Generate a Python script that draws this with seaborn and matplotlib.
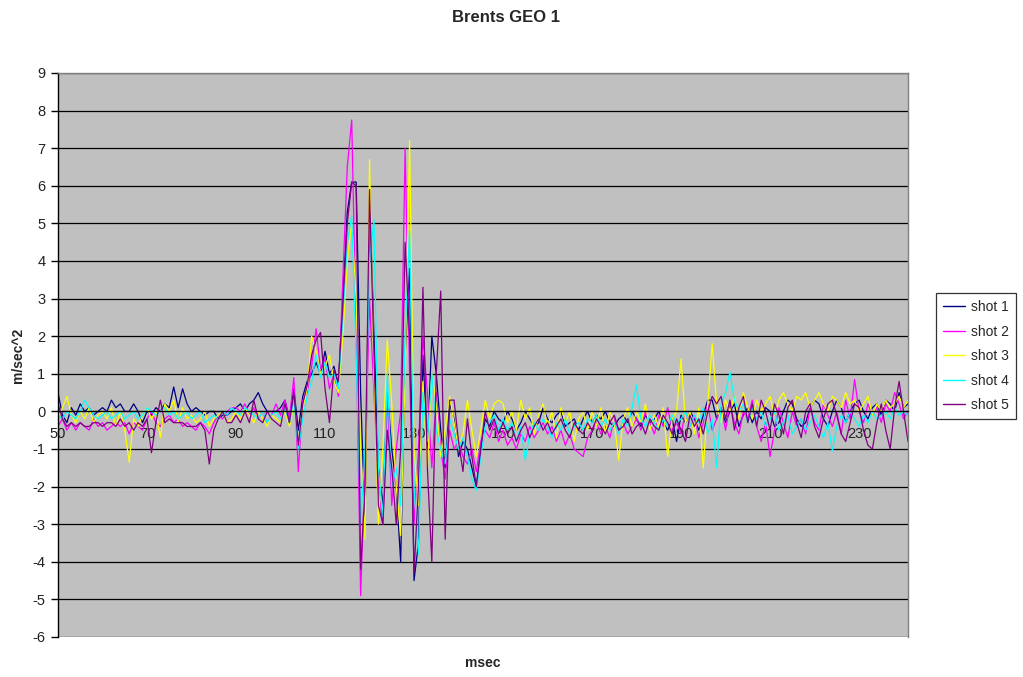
import matplotlib
matplotlib.use("Agg")
import matplotlib.pyplot as plt
import pandas as pd
import seaborn as sns

# time axis in msec, one sample per msec
msec = list(range(50, 242))

shot1 = [
    0.5, -0.1, -0.3, 0.1, -0.1, 0.2, 0.0, 0.1, -0.1, 0.0,
    0.1, 0.0, 0.3, 0.1, 0.2, 0.0, 0.0, 0.2, 0.0, -0.3,
    0.0, -0.1, 0.1, 0.0, 0.2, 0.1, 0.65, 0.1, 0.6, 0.2,
    0.0, 0.1, 0.0, -0.1, 0.0, 0.0, -0.2, -0.1, -0.1, 0.0,
    0.1, 0.2, 0.0, 0.2, 0.3, 0.5, 0.2, 0.0, 0.0, 0.0,
    0.1, 0.3, -0.2, 0.6, -0.5, 0.4, 0.8, 1.0, 1.3, 1.0,
    1.6, 1.0, 1.2, 0.7, 3.0, 5.3, 6.1, 6.1, 0.5, -3.0,
    5.8, 2.0, -1.5, -2.5, 0.5, -1.0, -2.0, -4.0, 1.5, 3.8,
    -4.5, -3.5, 1.5, -1.0, 2.0, 1.0, -0.5, -1.5, 0.2, -0.2,
    -1.2, -0.8, -1.0, -1.5, -2.0, -1.0, -0.2, -0.4, 0.0, -0.2,
    -0.3, 0.0, -0.2, -0.5, -0.3, 0.0, -0.2, -0.4, -0.3, 0.1,
    -0.2, -0.3, -0.1, 0.0, -0.4, -0.3, -0.2, -0.5, -0.2, 0.0,
    -0.3, -0.1, -0.2, 0.0, -0.3, -0.4, -0.2, -0.1, -0.3, 0.0,
    -0.2, -0.4, -0.1, -0.3, -0.2, 0.0, -0.3, -0.5, -0.2, -0.8,
    -0.1, -0.3, 0.0, -0.2, -0.5, -0.1, 0.3, 0.3, -0.2, 0.1,
    -0.3, 0.0, 0.2, -0.4, -0.1, 0.1, -0.3, 0.0, -0.2, 0.1,
    0.0, -0.4, -0.3, 0.0, 0.3, 0.2, -0.2, -0.4, -0.3, 0.1,
    0.3, 0.2, -0.2, -0.4, 0.0, 0.3, 0.1, -0.3, 0.0, 0.2,
    0.3, 0.0, -0.2, 0.1, 0.2, -0.1, 0.3, 0.2, 0.0, 0.5,
    0.1, 0.2,
]

shot2 = [
    -0.4, -0.2, -0.5, -0.3, -0.5, -0.3, -0.4, -0.5, -0.2, -0.4,
    -0.3, -0.5, -0.4, -0.3, -0.4, -0.3, -0.6, -0.3, -0.4, -0.5,
    -0.2, 0.0, -0.3, -0.4, -0.2, -0.1, -0.3, -0.2, -0.4, -0.3,
    -0.4, -0.5, -0.3, -0.4, -0.6, -0.3, -0.1, -0.2, 0.0, 0.1,
    0.1, 0.0, 0.2, -0.1, 0.1, -0.2, 0.0, -0.3, -0.1, 0.2,
    -0.1, 0.3, -0.2, 0.9, -1.6, 0.3, 0.5, 1.2, 2.2, 1.1,
    1.4, 0.6, 1.0, 0.4, 3.5, 6.5, 7.75, 2.0, -4.9, -1.5,
    3.0, 0.5, -2.0, -3.0, 0.5, -2.5, -1.0, 0.0, 7.0, 1.0,
    -3.0, -1.0, 2.0, 0.5, -1.5, 0.5, -1.0, -1.8, -0.5, -1.0,
    -0.8, -1.2, -1.4, -1.0, -1.6, -0.8, -0.5, -0.7, -0.3, -0.8,
    -0.5, -0.9, -0.7, -1.0, -0.6, -0.8, -0.4, -0.7, -0.5, -0.3,
    -0.6, -0.4, -0.8, -0.5, -0.9, -0.6, -1.0, -1.1, -1.2, -0.7,
    -0.5, -0.3, -0.6, -0.4, -0.7, -0.2, -0.5, -0.3, -0.6, -0.4,
    -0.2, -0.5, 0.0, -0.3, -0.6, -0.1, -0.4, 0.1, -0.5, -0.3,
    -0.6, 0.0, -0.4, -0.1, -0.7, -0.3, 0.2, -0.5, -0.2, 0.1,
    -0.5, 0.2, -0.3, -0.6, 0.0, -0.2, 0.3, -0.4, -0.8, -0.3,
    -1.2, -0.5, 0.1, -0.3, -0.7, 0.0, -0.4, -0.2, -0.6, 0.1,
    -0.3, -0.5, 0.2, -0.1, -0.4, 0.0, -0.6, 0.3, -0.2, 0.85,
    0.0, -0.3, 0.2, -0.1, 0.1, -0.3, 0.2, 0.0, 0.5, 0.2,
    -0.2, 0.0,
]

shot3 = [
    -0.2, 0.1, 0.4, -0.1, -0.3, 0.0, -0.2, 0.1, -0.3, -0.1,
    0.0, -0.2, 0.1, -0.4, 0.0, -0.5, -1.35, -0.2, -0.4, -0.1,
    0.1, -0.2, 0.0, -0.7, 0.2, 0.0, 0.3, -0.3, 0.1, -0.2,
    -0.1, -0.3, -0.2, 0.0, -0.4, -0.2, -0.1, 0.0, -0.3, -0.2,
    0.0, -0.2, 0.1, -0.1, -0.3, 0.0, -0.2, -0.4, -0.1, -0.2,
    -0.3, 0.0, -0.4, 0.2, -0.8, 0.1, 0.6, 2.0, 1.6, 1.0,
    1.2, 1.5, 0.8, 0.5, 2.0, 4.0, 5.0, 3.0, -1.0, -3.4,
    6.7, 1.0, -3.0, -1.0, 1.9, 0.2, -2.0, -3.3, 1.0, 7.2,
    -1.0, -2.5, 0.8, -1.5, 1.0, 0.2, -1.2, -0.5, 0.4, -0.3,
    -1.0, -0.6, 0.3, -0.5, -1.2, -0.5, 0.3, -0.2, 0.2, 0.3,
    0.2, -0.3, 0.0, -0.5, 0.3, -0.2, 0.1, -0.6, -0.1, 0.2,
    -0.4, 0.0, -0.7, 0.1, -0.3, 0.0, -0.8, -0.2, 0.0, -0.5,
    0.0, -0.4, 0.1, -0.6, 0.0, -0.3, -1.3, -0.2, 0.1, -0.4,
    0.0, -0.3, 0.2, -0.5, -0.1, -0.4, 0.1, -1.2, -0.2, 0.0,
    1.4, -0.3, 0.0, -0.6, 0.1, -1.5, 0.2, 1.8, 0.2, -0.3,
    0.3, 0.0, 0.4, -0.2, 0.5, 0.1, -0.2, 0.3, 0.0, 0.2,
    0.4, -0.1, 0.3, 0.5, 0.2, 0.0, 0.4, 0.3, 0.5, 0.1,
    0.3, 0.5, 0.2, 0.0, 0.4, 0.3, 0.1, 0.5, 0.2, 0.3,
    0.0, 0.2, 0.4, -0.1, 0.2, 0.0, 0.3, 0.1, 0.2, 0.4,
    0.1, 0.3,
]

shot4 = [
    -0.1, -0.2, 0.0, -0.1, -0.2, 0.0, 0.3, 0.1, -0.1, -0.2,
    -0.1, 0.0, -0.2, -0.1, 0.0, -0.2, -0.1, 0.0, -0.2, -0.1,
    0.1, 0.0, -0.1, 0.0, 0.1, -0.1, 0.0, -0.2, -0.1, 0.0,
    -0.2, -0.1, 0.0, -0.3, -0.2, -0.1, -0.2, 0.0, -0.1, 0.1,
    0.0, -0.1, 0.1, 0.0, -0.1, -0.2, 0.0, -0.3, -0.1, 0.0,
    -0.2, 0.1, -0.3, 0.3, -1.0, -0.2, 0.4, 0.8, 1.5, 0.9,
    1.3, 0.9, 1.0, 0.6, 2.5, 4.5, 5.2, 1.5, -3.0, -1.0,
    4.0, 5.1, -1.5, -2.8, 1.0, -2.0, -1.5, -2.5, 2.0, 4.8,
    -2.0, -3.8, 0.5, -0.8, 1.0, -0.5, -1.0, -1.4, -0.2, -0.6,
    -1.0, -0.7, -1.2, -1.8, -2.1, -1.2, -0.4, -0.3, -0.1, -0.5,
    -0.2, -0.5, -0.3, -0.8, -0.4, -1.3, -0.6, -0.3, -0.5, -0.2,
    -0.4, -0.7, -0.3, -0.5, -0.2, -0.6, -0.4, -0.3, -0.5, -0.2,
    -0.3, -0.1, -0.4, -0.2, -0.5, -0.3, -0.6, -0.2, -0.4, 0.1,
    0.7, -0.2, -0.4, -0.1, -0.3, -0.5, -0.2, -0.4, -0.1, -0.3,
    -0.2, 0.0, -0.4, -0.1, -0.3, 0.1, -0.6, -0.2, -1.5, 0.2,
    0.5, 1.05, 0.3, 0.0, 0.2, -0.3, 0.1, -0.2, 0.0, -0.4,
    -0.2, 0.0, -0.5, -0.3, -0.1, -0.6, -0.4, -0.2, -0.5, -0.3,
    -0.1, -0.4, -0.7, -0.3, -1.05, -0.4, -0.1, -0.3, 0.0, -0.2,
    -0.4, -0.1, -0.3, 0.0, -0.2, -0.1, 0.0, -0.2, 0.1, -0.1,
    0.0, -0.1,
]

shot5 = [
    0.2, -0.2, -0.4, -0.3, -0.4, -0.3, -0.4, -0.4, -0.3, -0.3,
    -0.4, -0.3, -0.3, -0.4, -0.2, -0.4, -0.3, -0.5, -0.3, -0.4,
    -0.2, -1.1, -0.3, 0.3, -0.3, -0.2, -0.3, -0.3, -0.3, -0.4,
    -0.4, -0.4, -0.3, -0.5, -1.4, -0.5, -0.2, 0.0, -0.3, -0.3,
    -0.1, -0.3, 0.0, -0.3, 0.3, -0.2, -0.3, 0.0, -0.2, -0.3,
    -0.4, 0.2, -0.3, 0.5, -0.9, 0.2, 0.7, 1.5, 1.9, 2.1,
    0.6, -0.3, 1.1, 0.8, 2.8, 5.0, 6.1, 6.0, -4.2, -2.0,
    5.9, 1.5, -2.5, -3.0, -0.5, -1.5, -3.0, -1.0, 4.5, 2.0,
    -4.3, -2.0, 3.3, -1.5, -4.0, 1.0, 3.2, -3.4, 0.3, 0.3,
    -0.8, -1.6, -0.2, -1.2, -2.0, -1.0, 0.0, -0.5, -0.2, -0.6,
    -0.3, -0.6, -0.4, -0.8, -0.5, -0.3, -0.7, -0.4, -0.2, -0.5,
    -0.3, -0.6, -0.4, -0.2, -0.5, -0.7, -0.3, -0.5, -0.6, -0.3,
    -0.5, -0.2, -0.4, -0.6, -0.3, -0.1, -0.5, -0.4, -0.2, -0.6,
    -0.4, -0.3, -0.6, -0.2, -0.4, -0.5, -0.1, -0.3, -0.6, -0.2,
    -0.5, -0.8, -0.1, -0.4, -0.2, -0.6, 0.0, 0.4, 0.2, 0.4,
    -0.2, 0.3, -0.5, 0.1, 0.4, -0.3, 0.2, -0.4, 0.3, 0.0,
    -0.5, 0.2, -0.1, -0.6, 0.1, 0.3, -0.3, -0.7, 0.0, 0.2,
    -0.4, -0.7, -0.2, 0.2, 0.3, -0.1, -0.6, -0.8, -0.3, 0.2,
    0.1, -0.5, -0.9, -1.0, -0.3, 0.2, -0.5, -1.0, 0.1, 0.8,
    0.0, -0.8,
]

shot_names = ["shot 1", "shot 2", "shot 3", "shot 4", "shot 5"]
shot_colors = ["#000080", "#FF00FF", "#FFFF00", "#00FFFF", "#800080"]
x_ticks = list(range(50, 241, 20))
y_ticks = list(range(-6, 10))

shots = [shot1, shot2, shot3, shot4, shot5]
frames = []
for name, vals in zip(shot_names, shots):
    assert len(vals) == len(msec), (name, len(vals))
    frames.append(pd.DataFrame({"msec": msec, "value": vals, "shot": name}))
df = pd.concat(frames, ignore_index=True)

sns.set_style("white")
plt.rcParams["font.family"] = ["Liberation Sans", "DejaVu Sans"]
plt.rcParams["axes.unicode_minus"] = False

W, H = 1023, 677
fig = plt.figure(figsize=(W / 100, H / 100), dpi=100)
ax = fig.add_axes([58 / W, 40 / H, 850 / W, 564 / H])
ax.set_facecolor("#C0C0C0")

sns.lineplot(data=df, x="msec", y="value", hue="shot", hue_order=shot_names,
             palette=shot_colors, linewidth=0.9, estimator=None, sort=False,
             errorbar=None, ax=ax)
handles, labels = ax.get_legend_handles_labels()
ax.get_legend().remove()

ax.set_xlim(50, 241)
ax.set_ylim(-6, 9)
ax.set_yticks(y_ticks)
ax.set_xticks(x_ticks)
ax.set_xlabel("")
ax.set_ylabel("")
ax.yaxis.grid(True, color="black", linewidth=0.9)
ax.xaxis.grid(False)
ax.set_axisbelow(True)

ax.spines["bottom"].set_position(("data", 0))
ax.spines["bottom"].set_color("black")
ax.spines["bottom"].set_linewidth(0.9)
ax.spines["left"].set_color("black")
ax.spines["left"].set_linewidth(1.0)
for side in ["top", "right"]:
    ax.spines[side].set_color("#808080")
    ax.spines[side].set_linewidth(1.0)

ax.tick_params(axis="y", direction="out", length=5, width=1, color="black",
               labelsize=10.5, pad=4, left=True, labelcolor="#222222")
ax.tick_params(axis="x", length=0, labelsize=10.5, pad=11, colors="#222222")

fig.text(506 / W, 1 - 18 / H, "Brents GEO 1", ha="center", va="center",
         fontsize=12, fontweight="bold")
fig.text(483 / W, 1 - 663 / H, "msec", ha="center", va="center",
         fontsize=10, fontweight="bold")
fig.text(18 / W, 1 - 355 / H, "m/sec^2", ha="center", va="center",
         rotation=90, fontsize=10, fontweight="bold")

leg = fig.legend(handles, labels, loc="upper left",
                 bbox_to_anchor=(936 / W, 1 - 293 / H), fontsize=10,
                 frameon=True, fancybox=False, edgecolor="black",
                 handlelength=1.6, handletextpad=0.4, labelspacing=0.76,
                 borderpad=0.5, borderaxespad=0)
leg.get_frame().set_linewidth(0.9)
for line in leg.get_lines():
    line.set_linewidth(1.0)

fig.savefig("out.png", dpi=100, facecolor="white")
